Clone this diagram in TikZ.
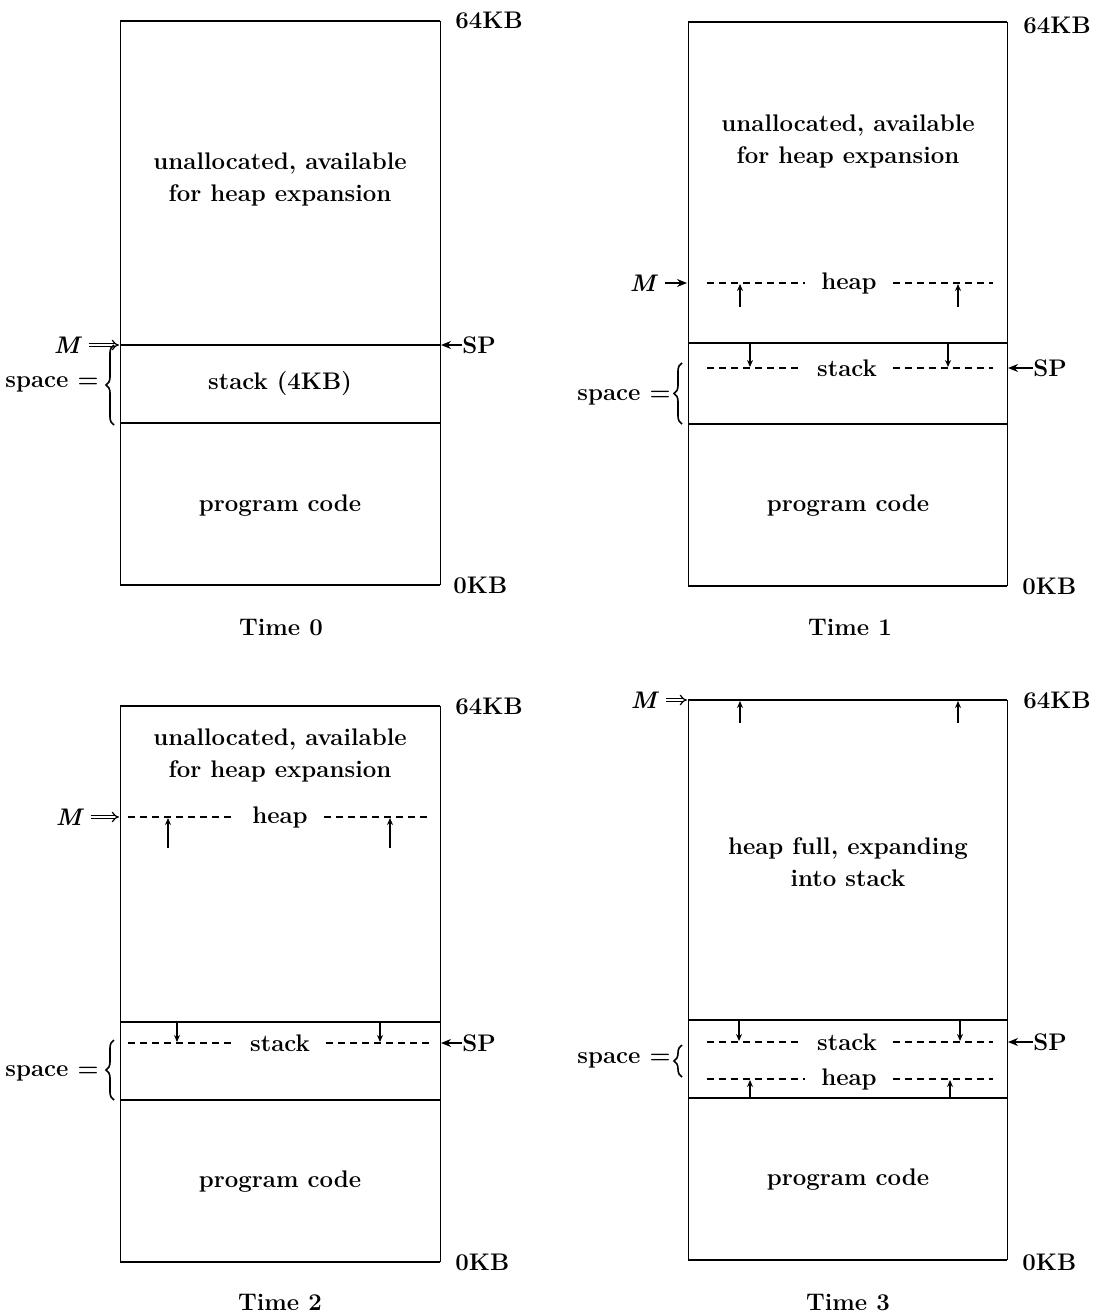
\documentclass[tikz,border=0pt]{standalone}
\usetikzlibrary{arrows.meta,decorations.pathreplacing}
\begin{document}
\begin{tikzpicture}[x=0.5pt,y=-0.5pt,
  txt/.style={font=\fontsize{12}{16}\selectfont\bfseries, align=center, inner sep=0pt},
  gap/.style={txt, inner xsep=8pt},
  side/.style={line width=0.5pt},
  hline/.style={line width=1.0pt},
  thick line/.style={line width=1.3pt},
  dashln/.style={line width=0.8pt, dash pattern=on 3.5pt off 2.5pt},
  tick/.style={line width=0.6pt, -{Stealth[length=3.5pt,width=3pt]}},
  ptr/.style={line width=0.9pt, -{Stealth[length=5pt,width=4pt]}},
  dptr/.style={double, double distance=1.2pt, line width=0.6pt, -{Implies}, shorten <=3pt},
  brc/.style={decorate, decoration={brace, amplitude=4pt}, line width=0.8pt}
]
\useasboundingbox (0,0) rectangle (1097,1316);

% ---------------- Time 0 ----------------
\draw[side] (120,21) -- (120,585);
\draw[side] (440,21) -- (440,585);
\draw[hline] (120,21) -- (440,21);
\draw[hline] (120,585) -- (440,585);
\draw[thick line] (120,345) -- (440,345);
\draw[thick line] (120,423) -- (440,423);
\node[txt] (u0) at (280,180) {unallocated, available\\for heap expansion};
\node[txt] (s0) at (280,384) {stack (4KB)};
\node[txt] (p0) at (280,506) {program code};
\node[txt] (t0) at (281,627) {Time 0};
\node[txt,anchor=west] (k0a) at (455,20) {64KB};
\node[txt,anchor=west] (k0b) at (453,585) {0KB};
\node[txt] (m0) at (68,345) {\textit{M}};
\coordinate (m0t) at (119,345);
\draw[dptr] (m0) -- (m0t);
\node[txt,anchor=west] (sp0) at (462,345) {SP};
\coordinate (sp0t) at (441,345);
\draw[ptr] (sp0) -- (sp0t);
\node[txt] (sc0) at (52,384) {space =};
\coordinate (b0a) at (114,425);
\coordinate (b0b) at (114,345);
\draw[brc] (b0a) -- (b0b);

% ---------------- Time 1 ----------------
\draw[side] (688,22) -- (688,586);
\draw[side] (1007,22) -- (1007,586);
\draw[hline] (688,22) -- (1007,22);
\draw[hline] (688,586) -- (1007,586);
\draw[thick line] (688,343) -- (1007,343);
\draw[thick line] (688,424) -- (1007,424);
\node[txt] (u1) at (848,142) {unallocated, available\\for heap expansion};
\node[gap] (h1) at (849,283) {heap};
\coordinate (h1l) at (707,283);
\coordinate (h1r) at (993,283);
\draw[dashln] (h1l) -- (h1);
\draw[dashln] (h1) -- (h1r);
\coordinate (a1a) at (740,307); \coordinate (a1b) at (740,284);
\coordinate (a1c) at (958,307); \coordinate (a1d) at (958,284);
\draw[tick] (a1a) -- (a1b);
\draw[tick] (a1c) -- (a1d);
\node[gap] (st1) at (847,368) {stack};
\coordinate (st1l) at (707,368);
\coordinate (st1r) at (993,368);
\draw[dashln] (st1l) -- (st1);
\draw[dashln] (st1) -- (st1r);
\coordinate (c1a) at (750,344); \coordinate (c1b) at (750,367);
\coordinate (c1c) at (948,344); \coordinate (c1d) at (948,367);
\draw[tick] (c1a) -- (c1b);
\draw[tick] (c1c) -- (c1d);
\node[txt,anchor=west] (sp1) at (1033,368) {SP};
\coordinate (sp1t) at (1008,368);
\draw[ptr] (sp1) -- (sp1t);
\node[txt] (m1) at (644,283) {\textit{M}};
\coordinate (m1t) at (687,283);
\draw[ptr, shorten <=3pt] (m1) -- (m1t);
\node[txt] (sc1) at (624,397) {space =};
\coordinate (b1a) at (682,424);
\coordinate (b1b) at (682,363);
\draw[brc] (b1a) -- (b1b);
\node[txt] (p1) at (848,506) {program code};
\node[txt] (t1) at (850,627) {Time 1};
\node[txt,anchor=west] (k1a) at (1023,25) {64KB};
\node[txt,anchor=west] (k1b) at (1022,586) {0KB};

% ---------------- Time 2 ----------------
\draw[side] (120,706) -- (120,1262);
\draw[side] (440,706) -- (440,1262);
\draw[hline] (120,706) -- (440,706);
\draw[hline] (120,1262) -- (440,1262);
\draw[thick line] (120,1022) -- (440,1022);
\draw[thick line] (120,1100) -- (440,1100);
\node[txt] (u2) at (280,755) {unallocated, available\\for heap expansion};
\node[gap] (h2) at (280,817) {heap};
\coordinate (h2l) at (128,817);
\coordinate (h2r) at (430,817);
\draw[dashln] (h2l) -- (h2);
\draw[dashln] (h2) -- (h2r);
\coordinate (a2a) at (168,848); \coordinate (a2b) at (168,818);
\coordinate (a2c) at (390,848); \coordinate (a2d) at (390,818);
\draw[tick] (a2a) -- (a2b);
\draw[tick] (a2c) -- (a2d);
\node[gap] (st2) at (280,1043) {stack};
\coordinate (st2l) at (128,1043);
\coordinate (st2r) at (430,1043);
\draw[dashln] (st2l) -- (st2);
\draw[dashln] (st2) -- (st2r);
\coordinate (c2a) at (177,1023); \coordinate (c2b) at (177,1042);
\coordinate (c2c) at (380,1023); \coordinate (c2d) at (380,1042);
\draw[tick] (c2a) -- (c2b);
\draw[tick] (c2c) -- (c2d);
\node[txt,anchor=west] (sp2) at (462,1043) {SP};
\coordinate (sp2t) at (441,1043);
\draw[ptr] (sp2) -- (sp2t);
\node[txt] (m2) at (70,817) {\textit{M}};
\coordinate (m2t) at (119,817);
\draw[dptr] (m2) -- (m2t);
\node[txt] (sc2) at (52,1073) {space =};
\coordinate (b2a) at (114,1100);
\coordinate (b2b) at (114,1040);
\draw[brc] (b2a) -- (b2b);
\node[txt] (p2) at (280,1182) {program code};
\node[txt] (t2) at (280,1302) {Time 2};
\node[txt,anchor=west] (k2a) at (455,706) {64KB};
\node[txt,anchor=west] (k2b) at (455,1262) {0KB};

% ---------------- Time 3 ----------------
\draw[side] (688,700) -- (688,1260);
\draw[side] (1007,700) -- (1007,1260);
\draw[thick line] (688,700) -- (1007,700);
\draw[hline] (688,1260) -- (1007,1260);
\draw[thick line] (688,1020) -- (1007,1020);
\draw[thick line] (688,1098) -- (1007,1098);
\coordinate (a3a) at (740,723); \coordinate (a3b) at (740,701);
\coordinate (a3c) at (958,723); \coordinate (a3d) at (958,701);
\draw[tick] (a3a) -- (a3b);
\draw[tick] (a3c) -- (a3d);
\node[txt] (u3) at (848,862) {heap full, expanding\\into stack};
\node[gap] (st3) at (847,1042) {stack};
\coordinate (st3l) at (707,1042);
\coordinate (st3r) at (993,1042);
\draw[dashln] (st3l) -- (st3);
\draw[dashln] (st3) -- (st3r);
\coordinate (c3a) at (739,1021); \coordinate (c3b) at (739,1041);
\coordinate (c3c) at (960,1021); \coordinate (c3d) at (960,1041);
\draw[tick] (c3a) -- (c3b);
\draw[tick] (c3c) -- (c3d);
\node[gap] (h3) at (849,1079) {heap};
\coordinate (h3l) at (707,1079);
\coordinate (h3r) at (993,1079);
\draw[dashln] (h3l) -- (h3);
\draw[dashln] (h3) -- (h3r);
\coordinate (e3a) at (750,1097); \coordinate (e3b) at (750,1080);
\coordinate (e3c) at (950,1097); \coordinate (e3d) at (950,1080);
\draw[tick] (e3a) -- (e3b);
\draw[tick] (e3c) -- (e3d);
\node[txt,anchor=west] (sp3) at (1033,1042) {SP};
\coordinate (sp3t) at (1008,1042);
\draw[ptr] (sp3) -- (sp3t);
\node[txt] (m3) at (645,700) {\textit{M}};
\coordinate (m3t) at (687,700);
\draw[dptr] (m3) -- (m3t);
\node[txt] (sc3) at (624,1060) {space =};
\coordinate (b3a) at (682,1077);
\coordinate (b3b) at (682,1045);
\draw[brc] (b3a) -- (b3b);
\node[txt] (p3) at (848,1180) {program code};
\node[txt] (t3) at (848,1302) {Time 3};
\node[txt,anchor=west] (k3a) at (1023,700) {64KB};
\node[txt,anchor=west] (k3b) at (1022,1262) {0KB};
\end{tikzpicture}
\end{document}
